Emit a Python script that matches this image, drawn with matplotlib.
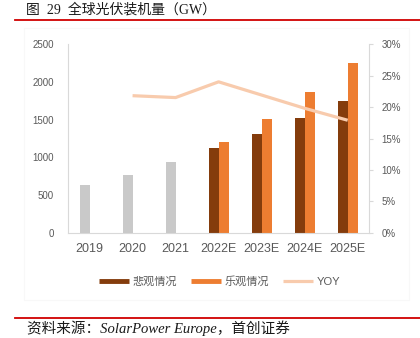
import numpy as np
import matplotlib
matplotlib.use("Agg")
import matplotlib.pyplot as plt
from matplotlib.lines import Line2D
from matplotlib.patches import Rectangle
from matplotlib.ticker import FuncFormatter

plt.rcParams['font.family'] = ['Liberation Sans', 'Noto Sans CJK SC', 'DejaVu Sans']

# data
years = ["2019", "2020", "2021", "2022E", "2023E", "2024E", "2025E"]
actual = [630, 770, 940]                 # grey bars, 2019-2021
pessimistic = [1120, 1315, 1520, 1745]   # 2022E-2025E
optimistic = [1205, 1510, 1860, 2255]
yoy = [0.218, 0.215, 0.240, 0.219, 0.198, 0.179]   # 2020-2025E

c_pess = "#843C0C"
c_opt = "#ED7D31"
c_yoy = "#F8CBAD"
c_grey = "#C9C9C9"
c_axis = "#D9D9D9"
c_text = "#595959"

fig = plt.figure(figsize=(4.2, 3.38), dpi=100)
ax = fig.add_axes([0.162, 0.3107, 0.717, 0.559])
ax2 = ax.twinx()

x = np.arange(len(years))
w = 0.23
ax.bar(x[:3] - w / 2, actual, width=w, color=c_grey, zorder=2)
ax.bar(x[3:] - w / 2, pessimistic, width=w, color=c_pess, zorder=2)
ax.bar(x[3:] + w / 2, optimistic, width=w, color=c_opt, zorder=2)

ax2.plot(x[1:], yoy, color=c_yoy, lw=2.3, solid_capstyle="butt", zorder=3)

ax.set_xlim(-0.5, len(years) - 0.5)
ax.set_ylim(0, 2500)
ax.set_yticks(range(0, 2501, 500))
ax2.set_ylim(0, 0.30)
ax2.set_yticks(np.arange(0, 0.301, 0.05))
ax2.yaxis.set_major_formatter(FuncFormatter(lambda v, p: f"{v * 100:.0f}%"))

ax.set_xticks(x)
ax.set_xticklabels(years, fontsize=9, color=c_text)
ax.tick_params(axis="x", length=0, pad=7)
ax.tick_params(axis="y", length=0, labelsize=7, labelcolor=c_text, pad=10)
ax2.tick_params(axis="y", length=3, width=0.8, color=c_axis,
                labelsize=7, labelcolor=c_text, pad=6)

for a in (ax, ax2):
    for s in a.spines.values():
        s.set_visible(False)
ax.spines["left"].set_visible(True)
ax.spines["bottom"].set_visible(True)
ax2.spines["right"].set_visible(True)
for s in (ax.spines["left"], ax.spines["bottom"], ax2.spines["right"]):
    s.set_color(c_axis)
    s.set_linewidth(0.8)

# legend
handles = [Line2D([], [], color=c_pess, lw=3.5, solid_capstyle="butt"),
           Line2D([], [], color=c_opt, lw=3.5, solid_capstyle="butt"),
           Line2D([], [], color=c_yoy, lw=2.3, solid_capstyle="butt")]
leg = fig.legend(handles, ["悲观情况", "乐观情况", "YOY"], loc="center",
                 bbox_to_anchor=(0.523, 0.166), ncol=3, frameon=False,
                 fontsize=8, handlelength=2.7, handletextpad=0.3,
                 columnspacing=1.3, labelcolor=c_text)

# faint chart-area border
fig.patches.append(Rectangle((24 / 420, 1 - 300 / 338), 385 / 420, 272 / 338,
                             transform=fig.transFigure, fill=False,
                             edgecolor="#F8F8F8", lw=0.8))

# title and red rules
fig.text(26 / 420, 1 - 10 / 338, "图  29  全球光伏装机量（GW）", fontsize=10,
         family=["Liberation Serif", "Noto Sans CJK SC"], weight="medium",
         color="#1a1a1a", va="center", ha="left")
fig.add_artist(Line2D([15 / 420, 1], [1 - 20 / 338] * 2, color="#D00000",
                      lw=1.3, transform=fig.transFigure))
fig.add_artist(Line2D([15 / 420, 1], [1 - 318 / 338] * 2, color="#D00000",
                      lw=1.3, transform=fig.transFigure))
fig.text(27 / 420, 1 - 328 / 338, "资料来源：SolarPower Europe，首创证券",
         fontsize=10.5, family=["Liberation Serif", "Noto Sans CJK SC"],
         style="italic", color="#1a1a1a", va="center", ha="left")

fig.savefig("out.png", dpi=100)
